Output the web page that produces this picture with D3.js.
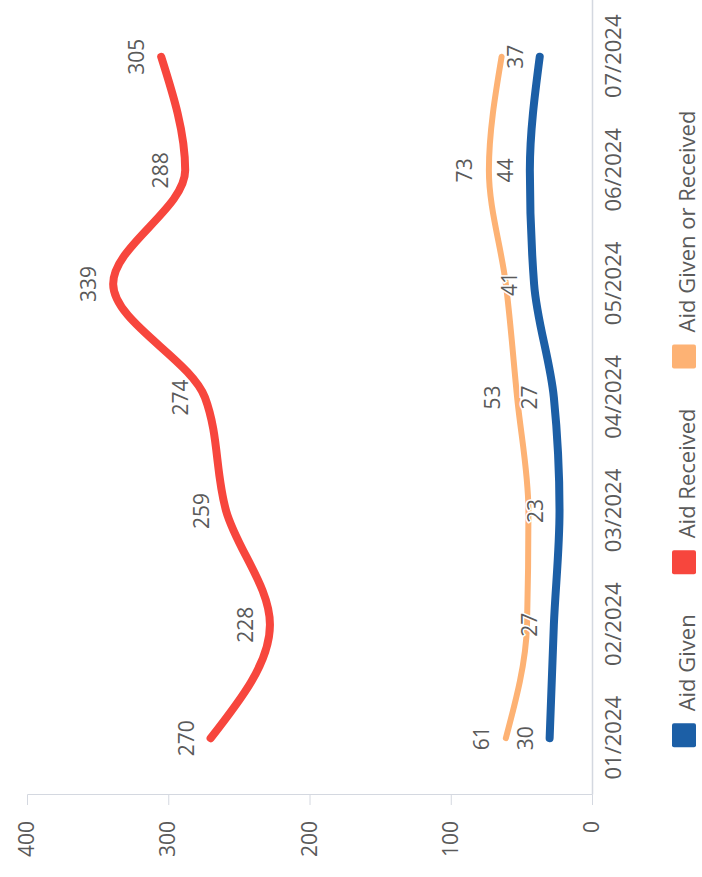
<!DOCTYPE html>
<html>
<head>
<meta charset="utf-8">
<script src="https://cdn.jsdelivr.net/npm/d3@7"></script>
<style>
  html, body { margin: 0; padding: 0; background: #fff; }
  svg { display: block; font-family: "Open Sans", sans-serif; }
</style>
</head>
<body>
<script>
// Monthly counts per aid category
const months = ["01/2024", "02/2024", "03/2024", "04/2024", "05/2024", "06/2024", "07/2024"];
const aidGiven = [30, 27, 23, 27, 41, 44, 37];
const aidReceived = [270, 228, 259, 274, 339, 288, 305];
const aidGivenOrReceived = [61, 46, 45, 53, 61, 73, 64];
const yTicks = [0, 100, 200, 300, 400];
// months whose "Aid Given or Received" value is labelled
const orangeLabelMonths = ["01/2024", "04/2024", "06/2024"];

const seriesNames = ["Aid Given", "Aid Received", "Aid Given or Received"];
const seriesColors = ["#1c5fa6", "#f7463d", "#fdb274"];

const W = 702, H = 877;
const svg = d3.select("body").append("svg").attr("width", W).attr("height", H);

// the whole chart is laid out sideways: draw in a frame turned a quarter turn
const g = svg.append("g").attr("transform", `translate(0,${H}) rotate(-90)`);

const x = d3.scalePoint().domain(months).range([82, 877]).padding(0.5);
const y = d3.scaleLinear().domain([0, 400]).range([592, 27]);

const textColor = "#5a5a5a";
const axisColor = "#d4d8e0";

// value axis
const yAxis = g.append("g").attr("transform", "translate(82,0)")
  .call(d3.axisLeft(y).tickValues(yTicks).tickSize(10).tickPadding(16));
yAxis.select(".domain").attr("stroke", axisColor);
yAxis.selectAll(".tick line").attr("stroke", axisColor);
yAxis.selectAll(".tick text").attr("fill", textColor).style("font-size", "21px")
  .style("font-family", "'Open Sans', sans-serif");

// month axis
const xAxis = g.append("g").attr("transform", "translate(0,592)")
  .call(d3.axisBottom(x).tickSize(0).tickPadding(13));
xAxis.select(".domain").attr("stroke", axisColor).attr("stroke-width", 1.5);
xAxis.selectAll(".tick text").attr("fill", textColor).style("font-size", "22px")
  .style("font-family", "'Open Sans', sans-serif");

const series = [
  { name: seriesNames[2], values: aidGivenOrReceived, color: seriesColors[2], width: 6, labels: orangeLabelMonths },
  { name: seriesNames[0], values: aidGiven, color: seriesColors[0], width: 8, labels: months },
  { name: seriesNames[1], values: aidReceived, color: seriesColors[1], width: 8, labels: months }
];

const line = d3.line()
  .x((d, i) => x(months[i]))
  .y(d => y(d))
  .curve(d3.curveMonotoneX);

g.selectAll("path.series")
  .data(series)
  .join("path")
  .attr("class", "series")
  .attr("d", s => line(s.values))
  .attr("fill", "none")
  .attr("stroke", s => s.color)
  .attr("stroke-width", s => s.width)
  .attr("stroke-linecap", "round")
  .attr("stroke-linejoin", "round");

// point value labels
series.forEach(s => {
  const pts = s.values.map((v, i) => ({ m: months[i], v })).filter(p => s.labels.includes(p.m));
  g.append("g").selectAll("text")
    .data(pts)
    .join("text")
    .attr("x", p => x(p.m))
    .attr("y", p => y(p.v) - 25)
    .attr("text-anchor", "middle")
    .attr("dominant-baseline", "central")
    .attr("fill", textColor)
    .attr("stroke", "#fff")
    .attr("stroke-width", 3)
    .attr("paint-order", "stroke")
    .style("font-size", "21px")
    .text(p => p.v);
});

// legend
const legendItems = [
  { name: seriesNames[0], color: seriesColors[0] },
  { name: seriesNames[1], color: seriesColors[1] },
  { name: seriesNames[2], color: seriesColors[2] }
];
const legend = g.append("g").attr("transform", "translate(0,672)");
let cursor = 0;
const items = legend.selectAll("g.item").data(legendItems).join("g").attr("class", "item");
items.append("rect")
  .attr("width", 24).attr("height", 24).attr("rx", 2)
  .attr("fill", d => d.color);
items.append("text")
  .attr("x", 36).attr("y", 23)
  .attr("fill", textColor)
  .style("font-size", "22px")
  .text(d => d.name);
const widths = [];
items.each(function () { widths.push(this.getBBox().width); });
const gap = 40;
const total = d3.sum(widths) + gap * (widths.length - 1);
cursor = 448 - total / 2;
items.attr("transform", (d, i) => {
  const t = `translate(${cursor},0)`;
  cursor += widths[i] + gap;
  return t;
});
</script>
</body>
</html>
